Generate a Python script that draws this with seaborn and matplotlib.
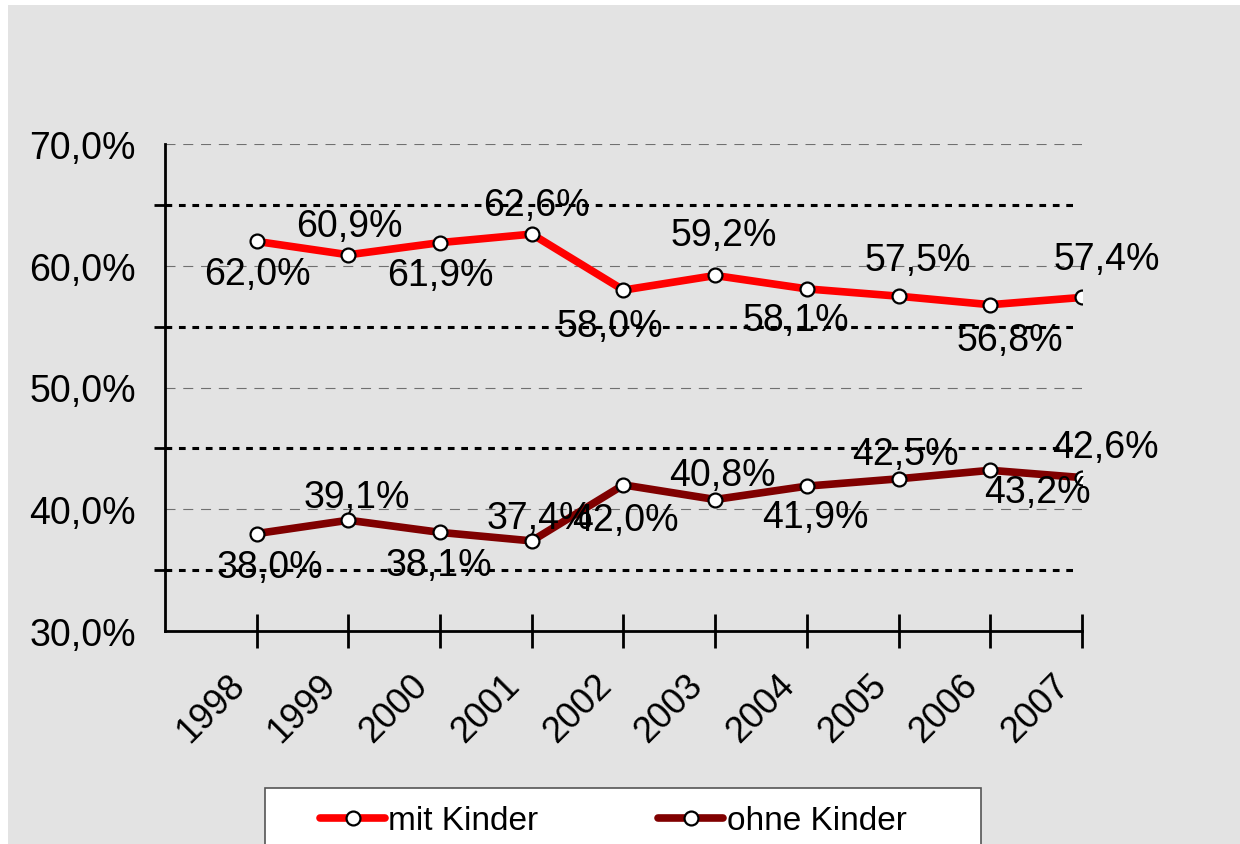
import numpy as np
import pandas as pd
import seaborn as sns
import matplotlib.pyplot as plt
from matplotlib.lines import Line2D
from matplotlib.patches import Rectangle
from matplotlib.ticker import FuncFormatter, MultipleLocator

# data
years = [1998, 1999, 2000, 2001, 2002, 2003, 2004, 2005, 2006, 2007]
mit_kinder = [62.0, 60.9, 61.9, 62.6, 58.0, 59.2, 58.1, 57.5, 56.8, 57.4]
ohne_kinder = [38.0, 39.1, 38.1, 37.4, 42.0, 40.8, 41.9, 42.5, 43.2, 42.6]
series_names = ['mit Kinder', 'ohne Kinder']

# label offsets in pixels (dx, dy), as placed in the original
mit_offsets = [(1, -33), (1, 29), (0, -32), (5, 29), (-14, -36),
               (9, 40), (-11, -31), (19, 36), (20, -35), (25, 38)]
ohne_offsets = [(13, -33), (8, 23), (-1, -33), (8, 23), (2, -35),
                (7, 25), (8, -31), (7, 25), (47, -22), (23, 31)]

colors = {'mit Kinder': '#ff0000', 'ohne Kinder': '#800000'}
bg = '#e3e3e3'
W, H = 1240, 845


def pct(v, pos=None):
    return f'{v:.1f}%'.replace('.', ',')


def main():
    sns.set_style('white')
    plt.rcParams['font.family'] = ['Liberation Sans', 'DejaVu Sans']
    plt.rcParams['text.color'] = 'black'
    plt.rcParams['xtick.color'] = 'black'
    plt.rcParams['ytick.color'] = 'black'

    df = pd.DataFrame({
        'Jahr': years * 2,
        'Anteil': mit_kinder + ohne_kinder,
        'Gruppe': [series_names[0]] * len(years) + [series_names[1]] * len(years),
    })

    fig = plt.figure(figsize=(W / 100, H / 100), dpi=100, facecolor='white')
    # grey chart area, white strip on top and left
    fig.patches.append(Rectangle((8 / W, 0), 1, 1 - 6 / H, transform=fig.transFigure,
                                 facecolor=bg, edgecolor='none', zorder=-10))
    # legend box, runs off the bottom edge
    fig.patches.append(Rectangle((265 / W, -0.05), 716 / W, 0.05 + 1 - 789 / H,
                                 transform=fig.transFigure, facecolor='white',
                                 edgecolor='#555555', linewidth=1.2, zorder=-5))

    ax = fig.add_axes([165 / W, 1 - 632 / H, (1082 - 165) / W, (632 - 145) / H])
    ax.set_facecolor(bg)

    sns.lineplot(data=df, x='Jahr', y='Anteil', hue='Gruppe', palette=colors,
                 linewidth=5.5, marker='o', markersize=10, markerfacecolor='white',
                 markeredgecolor='black', markeredgewidth=1.6, legend=False,
                 ax=ax, zorder=5)

    ax.set_xlim(1997, 2007)
    ax.set_ylim(30, 70)
    ax.set_xticks(years)
    ax.set_xticklabels([])
    # year labels, rotated, placed a bit left of each tick like the original
    for y in years:
        ax.annotate(str(y), (y, 0), xycoords=('data', 'axes fraction'),
                    xytext=(-30, -36), textcoords='offset pixels', rotation=45,
                    ha='right', va='top', rotation_mode='anchor', fontsize=26,
                    annotation_clip=False)
    ax.yaxis.set_major_locator(MultipleLocator(10))
    ax.yaxis.set_minor_locator(MultipleLocator(5))
    ax.yaxis.set_major_formatter(FuncFormatter(pct))
    ax.tick_params(axis='y', labelsize=27, which='major', direction='inout',
                   length=24, width=2, pad=9)
    ax.tick_params(axis='y', which='minor', direction='out', length=8, width=2, left=True)
    ax.tick_params(axis='x', direction='inout', length=24, width=2, bottom=True)
    ax.set_xlabel('')
    ax.set_ylabel('')

    for s in ['top', 'right']:
        ax.spines[s].set_visible(False)
    for s in ['left', 'bottom']:
        ax.spines[s].set_color('black')
        ax.spines[s].set_linewidth(2)
        ax.spines[s].set_zorder(6)

    ax.grid(False)
    for v in [40, 50, 60, 70]:
        ax.axhline(v, color='#707070', linewidth=0.8, dashes=(9, 7), zorder=1)
    for v in [35, 45, 55, 65]:
        ax.axhline(v, xmax=0.994, color='black', linewidth=2.2, dashes=(2.2, 2.2), zorder=1)

    for vals, offs in [(mit_kinder, mit_offsets), (ohne_kinder, ohne_offsets)]:
        for x, v, (dx, dy) in zip(years, vals, offs):
            ax.annotate(pct(v), (x, v), xytext=(dx, dy), textcoords='offset pixels',
                        ha='center', va='center', fontsize=27, zorder=7,
                        annotation_clip=False)

    handles = [Line2D([], [], color=colors[n], linewidth=5.5, marker='o', markersize=10,
                      markerfacecolor='white', markeredgecolor='black',
                      markeredgewidth=1.6) for n in series_names]
    fig.legend(handles, series_names, loc='center left', ncol=2,
               bbox_to_anchor=(320 / W, 1 - 822 / H), fontsize=24, frameon=False,
               handlelength=1.95, handletextpad=0.1, borderpad=0,
               borderaxespad=0, columnspacing=3.6)

    fig.savefig('out.png', dpi=100, facecolor='white')


if __name__ == '__main__':
    main()
